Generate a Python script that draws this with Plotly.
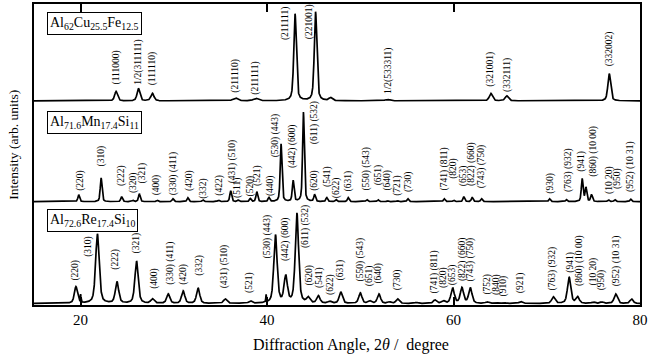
import numpy as np
import plotly.graph_objects as go

# ---------------- data ----------------
# Top pattern: Al62Cu25.5Fe12.5
cu_pos = [23.8, 26.2, 27.7, 36.6, 38.8, 43.0, 45.2, 46.8, 52.9, 64.0, 65.7, 76.7]
cu_h   = [9.5, 12.5, 7.5, 3, 2.5, 87.5, 89.5, 3, 1.5, 7.5, 5, 27.5]
cu_w   = [0.35, 0.35, 0.4, 0.6, 0.6, 0.32, 0.32, 0.4, 0.6, 0.4, 0.4, 0.35]
cu_base = 205.5
cu_lab_x = [23.8, 26.2, 27.8, 36.6, 38.8, 41.9, 44.5, 53.1, 64.0, 65.8, 76.7]
cu_lab_y = [220, 220, 219, 212, 210, 265, 265, 210, 218, 212, 238]
cu_lab_t = ["(111000)", "1/2(311111)", "(111110)", "(211110)", "(211111)",
            "(211111)", "(221001)", "1/2(533311)", "(321001)", "(332111)", "(332002)"]

# Middle pattern: Al71.6Mn17.4Si11
mn_pos = [19.8, 22.2, 24.4, 25.6, 26.3, 28.2, 29.9, 31.5, 33.1, 34.8, 36.1, 36.9,
          38.2, 38.9, 40.2, 41.5, 42.8, 43.9, 45.1, 46.4, 47.4, 48.7, 50.7, 51.9,
          52.9, 54.0, 55.1, 59.0, 60.0, 61.1, 62.0, 63.0, 70.3, 72.1, 73.8, 74.2,
          74.8, 76.6, 77.3, 79.0]
mn_h   = [7, 24, 5, 1.5, 8, 1.5, 3, 4, 2, 1.5, 11, 1.5,
          3, 10, 4, 58, 21, 90, 7, 4, 2, 4, 2, 2,
          1, 1, 3, 3, 1.5, 5, 4.5, 3, 3, 2, 23, 14,
          7, 2, 2, 2.5]
mn_w   = 0.22
mn_base = 104
mn_lab_x = [20.0, 22.2, 24.4, 25.6, 26.6, 28.1, 29.9, 31.7, 33.2, 34.9, 36.3, 36.9,
            38.2, 39.0, 40.3, 41.0, 42.8, 45.1, 45.1, 46.5, 47.4, 48.7, 50.7, 51.9,
            52.9, 54.0, 55.1, 59.0, 60.0, 61.0, 62.0, 63.0, 70.4, 72.4, 73.7, 75.0,
            76.7, 77.6, 79.0]
mn_lab_y = [113, 137, 118, 111, 120, 108, 109, 113, 105, 108, 120, 106,
            107, 118, 108, 147, 136, 160, 113, 117, 105, 112, 113, 118,
            113, 108, 112, 113, 125, 118, 118, 115, 110, 112, 132, 127,
            110, 115, 112]
mn_lab_t = ["(220)", "(310)", "(222)", "(320)", "(321)", "(400)", "(330) (411)", "(420)",
            "(332)", "(422)", "(431) (510)", "(511)", "(520)", "(521)", "(440)",
            "(530) (443)", "(442) (600)", "(611) (532)", "(620)", "(541)", "(622)",
            "(631)", "(550) (543)", "(651)", "(640)", "(721)", "(730)", "(741) (811)",
            "(820)", "(653)", "(822) (660)", "(743) (750)", "(930)", "(763) (932)",
            "(941)", "(860) (10 00)", "(10 20)", "(950)", "(952) (10 31)"]

# Bottom pattern: Al72.6Re17.4Si10
re_pos = [19.5, 20.0, 21.8, 23.9, 26.0, 27.7, 29.4, 31.0, 32.6, 35.5, 38.2, 39.9,
          40.9, 42.0, 43.2, 44.4, 45.5, 46.7, 47.9, 50.0, 51.0, 52.0, 53.1, 54.0,
          56.0, 58.0, 58.9, 59.9, 60.9, 61.8, 63.6, 64.5, 65.4, 67.2, 70.7, 72.4,
          73.3, 75.0, 75.9, 77.4, 79.1]
re_h   = [16.5, 7.5, 70, 21.5, 42.5, 4.5, 9.5, 12.5, 15.5, 4.5, 2.5, 7.5,
          68.5, 26.5, 90.5, 5.5, 7.5, 2, 11.5, 10.5, 2.5, 9.5, 1.5, 4.5,
          1, 3.5, 2.5, 15.5, 15.5, 15.5, 1.5, 1, 1, 2, 6.5, 26.5,
          6.5, 1.5, 1.5, 9.5, 4.5]
re_w   = [0.4, 0.08, 0.45, 0.42, 0.42, 0.4, 0.4, 0.4, 0.4, 0.4, 0.4, 0.08,
          0.42, 0.42, 0.42, 0.4, 0.4, 0.4, 0.4, 0.4, 0.4, 0.4, 0.4, 0.4,
          0.4, 0.4, 0.4, 0.42, 0.42, 0.42, 0.4, 0.4, 0.4, 0.4, 0.42, 0.42,
          0.42, 0.4, 0.4, 0.42, 0.4]
re_base = 1.5
re_lab_x = [19.5, 20.9, 23.8, 26.0, 27.9, 29.6, 31.1, 32.8, 35.4, 38.1, 40.0, 41.9,
            44.2, 44.6, 45.6, 46.8, 47.9, 50.0, 51.0, 52.0, 54.0, 58.0, 58.9, 59.9,
            60.9, 61.8, 63.7, 64.6, 65.4, 67.2, 70.6, 72.6, 73.5, 75.0, 75.9, 77.5]
re_lab_y = [23, 46, 33, 50, 14, 18, 18, 28, 15, 10, 45, 42,
            55, 18, 15, 8, 23, 22, 17, 20, 13, 10, 15, 18,
            22, 22, 8, 8, 7, 10, 13, 30, 17, 18, 13, 17]
re_lab_t = ["(220)", "(310)", "(222)", "(321)", "(400)", "(330) (411)", "(420)", "(332)",
            "(431) (510)", "(521)", "(530) (443)", "(442) (600)", "(611) (532)", "(620)",
            "(541)", "(622)", "(631)", "(550) (543)", "(651)", "(640)", "(730)",
            "(741) (811)", "(820)", "(653)", "(822) (660)", "(743) (750)", "(752)",
            "(840)", "(910)", "(921)", "(763) (932)", "(941)", "(860) (10 00)",
            "(10 20)", "(950)", "(952) (10 31)"]

sample_names = ["Al<sub>62</sub>Cu<sub>25.5</sub>Fe<sub>12.5</sub>",
                "Al<sub>71.6</sub>Mn<sub>17.4</sub>Si<sub>11</sub>",
                "Al<sub>72.6</sub>Re<sub>17.4</sub>Si<sub>10</sub>"]
x_ticks = [20, 40, 60, 80]

# ---------------- build profiles ----------------
tt = np.arange(15.0, 80.0001, 0.01)


def profile(pos, h, w, base):
    w = np.broadcast_to(np.asarray(w, float), (len(pos),))
    y = np.full_like(tt, base)
    for p, a, fw in zip(pos, h, w):
        g = np.exp(-4 * np.log(2) * ((tt - p) / fw) ** 2)
        l = 1.0 / (1.0 + 4 * ((tt - p) / fw) ** 2)
        y += a * (0.5 * g + 0.5 * l)
    return y


FONT = "Liberation Serif, Times New Roman, serif"
fig = go.Figure()
for pos, h, w, base in [(cu_pos, cu_h, cu_w, cu_base),
                        (mn_pos, mn_h, mn_w, mn_base),
                        (re_pos, re_h, re_w, re_base)]:
    fig.add_trace(go.Scatter(x=tt, y=profile(pos, h, w, base), mode="lines",
                             line=dict(color="black", width=1.7),
                             hoverinfo="skip", showlegend=False))

ann = []
for xs, ys, ts in [(cu_lab_x, cu_lab_y, cu_lab_t),
                   (mn_lab_x, mn_lab_y, mn_lab_t),
                   (re_lab_x, re_lab_y, re_lab_t)]:
    for x, y, t in zip(xs, ys, ts):
        ann.append(dict(x=x, y=y, xref="x", yref="y", text=t, showarrow=False,
                        textangle=-90, xanchor="center", yanchor="bottom",
                        font=dict(family=FONT, size=9.5, color="black")))

# plot area in pixels: x 34..643, y 2..305
PL, PR, PT, PB = 34, 643, 2, 305


def px(x):
    return (x - PL) / (PR - PL)


def py(y):
    return (PB - y) / (PB - PT)


for name, top in zip(sample_names, [10, 110, 208]):
    ann.append(dict(x=px(47), y=py(top), xref="paper", yref="paper", text=name,
                    showarrow=False, xanchor="left", yanchor="top",
                    bgcolor="white", bordercolor="black", borderwidth=1, borderpad=2,
                    font=dict(family=FONT, size=14, color="black")))

ann.append(dict(x=px(353), y=py(345), xref="paper", yref="paper",
                text="Diffraction Angle, 2<i>θ</i> /  degree", showarrow=False,
                xanchor="center", yanchor="middle",
                font=dict(family=FONT, size=16, color="black")))
ann.append(dict(x=px(13), y=py(143.5), xref="paper", yref="paper",
                text="Intensity (arb. units)", showarrow=False, textangle=-90,
                xanchor="center", yanchor="middle",
                font=dict(family=FONT, size=13.5, color="black")))

fig.update_layout(
    width=650, height=356,
    margin=dict(l=PL, r=650 - PR, t=PT, b=356 - PB),
    plot_bgcolor="white", paper_bgcolor="white",
    annotations=ann,
    xaxis=dict(range=[15, 80], tickvals=x_ticks, ticks="inside", ticklen=8,
               tickwidth=2, tickcolor="black", showline=True, linewidth=2,
               linecolor="black", mirror="ticks", showgrid=False, zeroline=False,
               ticklabeloverflow="allow",
               tickfont=dict(family=FONT, size=15, color="black")),
    yaxis=dict(range=[0, PB - PT], showticklabels=False, ticks="", showline=True,
               linewidth=2, linecolor="black", mirror=True, showgrid=False,
               zeroline=False),
)

fig.write_html("out.html", config={"displayModeBar": False},
               post_script="document.body.style.margin='0';document.body.style.overflow='hidden';")
